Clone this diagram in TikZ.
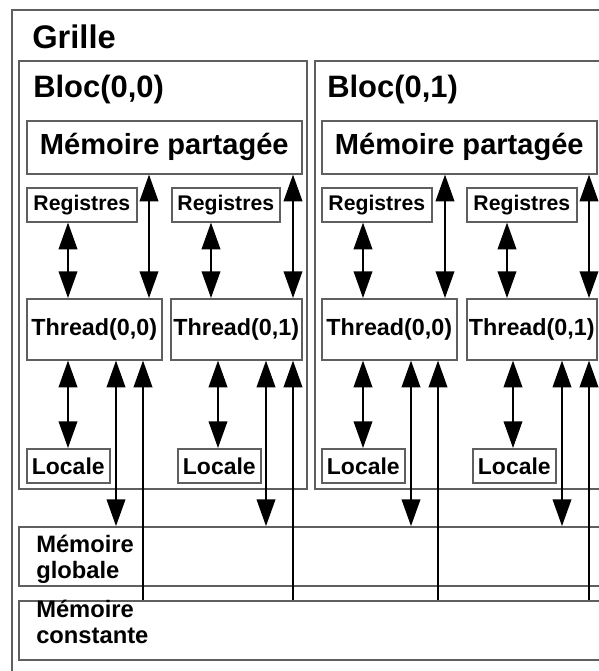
\documentclass[tikz,border=0pt]{standalone}
\usepackage{fontspec}
\setmainfont{Liberation Sans}
\usetikzlibrary{arrows.meta,fit}
\definecolor{boxgray}{RGB}{95,95,95}
\tikzset{
  frame/.style={draw=boxgray,line width=1.4pt,inner sep=0pt},
  cell/.style={draw=boxgray,line width=1.2pt,inner sep=0pt,anchor=north west,font=\bfseries},
  boxw/.style={minimum width={#1*0.75pt}},
  boxh/.style={minimum height={#1*0.75pt}},
  title/.style={anchor=base west,inner sep=0pt,font=\bfseries},
  link/.style={line width=1.1pt,black},
  mem/.style={cell,boxw=275,boxh=53,font=\fontsize{21.8}{26}\selectfont\bfseries},
  reg/.style={cell,boxw=#1,boxh=34,font=\fontsize{15.9}{19}\selectfont\bfseries},
  thr/.style={cell,boxw=#1,boxh=61,font=\fontsize{17.5}{21}\selectfont\bfseries},
  loc/.style={cell,boxw=83,boxh=34,font=\fontsize{17.2}{20}\selectfont\bfseries},
  memlbl/.style={anchor=base west,inner sep=0pt,align=left,
    font=\fontsize{17.8}{19}\selectfont\bfseries}
}
\begin{document}
\begin{tikzpicture}[x=0.75pt,y=-0.75pt,>={Triangle[length=20pt,width=14pt]}]
\useasboundingbox (0,0) rectangle (599,671);
\clip (0,0) rectangle (599,671);
\fill[white] (0,0) rectangle (599,671);

% grid and blocks
\node[frame,fit={(12,10) (640,700)}] (grid) {};
\node[title,font=\fontsize{24.5}{29}\selectfont\bfseries] (gridlbl) at (32,48) {Grille};
\node[frame,fit={(19,61) (307,489)}] (b0) {};
\node[frame,fit={(315,61) (640,489)}] (b1) {};
\node[title,font=\fontsize{23.2}{28}\selectfont\bfseries] (b0lbl) at (33,97) {Bloc(0,0)};
\node[title,font=\fontsize{23.2}{28}\selectfont\bfseries] (b1lbl) at (327,97) {Bloc(0,1)};

% shared memories
\node[mem] (m0) at (26,120) {Mémoire partagée};
\node[mem] (m1) at (321,120) {Mémoire partagée};

% registers
\node[reg=110] (r00) at (26,187) {Registres};
\node[reg=108] (r01) at (171,187) {Registres};
\node[reg=110] (r10) at (321,187) {Registres};
\node[reg=110] (r11) at (466,187) {Registres};

% threads
\node[thr=135] (t00) at (26,298) {Thread(0,0)};
\node[thr=131] (t01) at (170,298) {Thread(0,1)};
\node[thr=135] (t10) at (321,298) {Thread(0,0)};
\node[thr=130] (t11) at (466,298) {Thread(0,1)};

% local memories
\node[loc] (l00) at (26,448) {Locale};
\node[loc] (l01) at (177,448) {Locale};
\node[loc] (l10) at (321,448) {Locale};
\node[loc] (l11) at (472,448) {Locale};

% global and constant memories
\node[frame,fit={(19,527) (640,586)}] (glob) {};
\node[frame,fit={(19,601) (640,660)}] (const) {};
\node[memlbl] (globlbl) at (36,578) {Mémoire\\globale};
\node[memlbl] (constlbl) at (36,643) {Mémoire\\constante};

% block 0 connectors
\draw[link,<->] (m0.south -| 149,0) -- (t00.north -| 149,0);
\draw[link,<->] (m0.south -| 293,0) -- (t01.north -| 293,0);
\draw[link,<->] (r00.south -| 68,0) -- (t00.north -| 68,0);
\draw[link,<->] (r01.south -| 211,0) -- (t01.north -| 211,0);
\draw[link,<->] (t00.south -| 68,0) -- (l00.north -| 68,0);
\draw[link,<->] (t01.south -| 218,0) -- (l01.north -| 218,0);
\draw[link,<->] (glob.north -| 116,0) -- (t00.south -| 116,0);
\draw[link,<->] (glob.north -| 266,0) -- (t01.south -| 266,0);
\draw[link,->] (const.north -| 143,0) -- (t00.south -| 143,0);
\draw[link,->] (const.north -| 293,0) -- (t01.south -| 293,0);

% block 1 connectors
\draw[link,<->] (m1.south -| 445,0) -- (t10.north -| 445,0);
\draw[link,<->] (m1.south -| 589,0) -- (t11.north -| 589,0);
\draw[link,<->] (r10.south -| 363,0) -- (t10.north -| 363,0);
\draw[link,<->] (r11.south -| 507,0) -- (t11.north -| 507,0);
\draw[link,<->] (t10.south -| 363,0) -- (l10.north -| 363,0);
\draw[link,<->] (t11.south -| 513,0) -- (l11.north -| 513,0);
\draw[link,<->] (glob.north -| 411,0) -- (t10.south -| 411,0);
\draw[link,<->] (glob.north -| 562,0) -- (t11.south -| 562,0);
\draw[link,->] (const.north -| 438,0) -- (t10.south -| 438,0);
\draw[link,->] (const.north -| 589,0) -- (t11.south -| 589,0);
\end{tikzpicture}
\end{document}
